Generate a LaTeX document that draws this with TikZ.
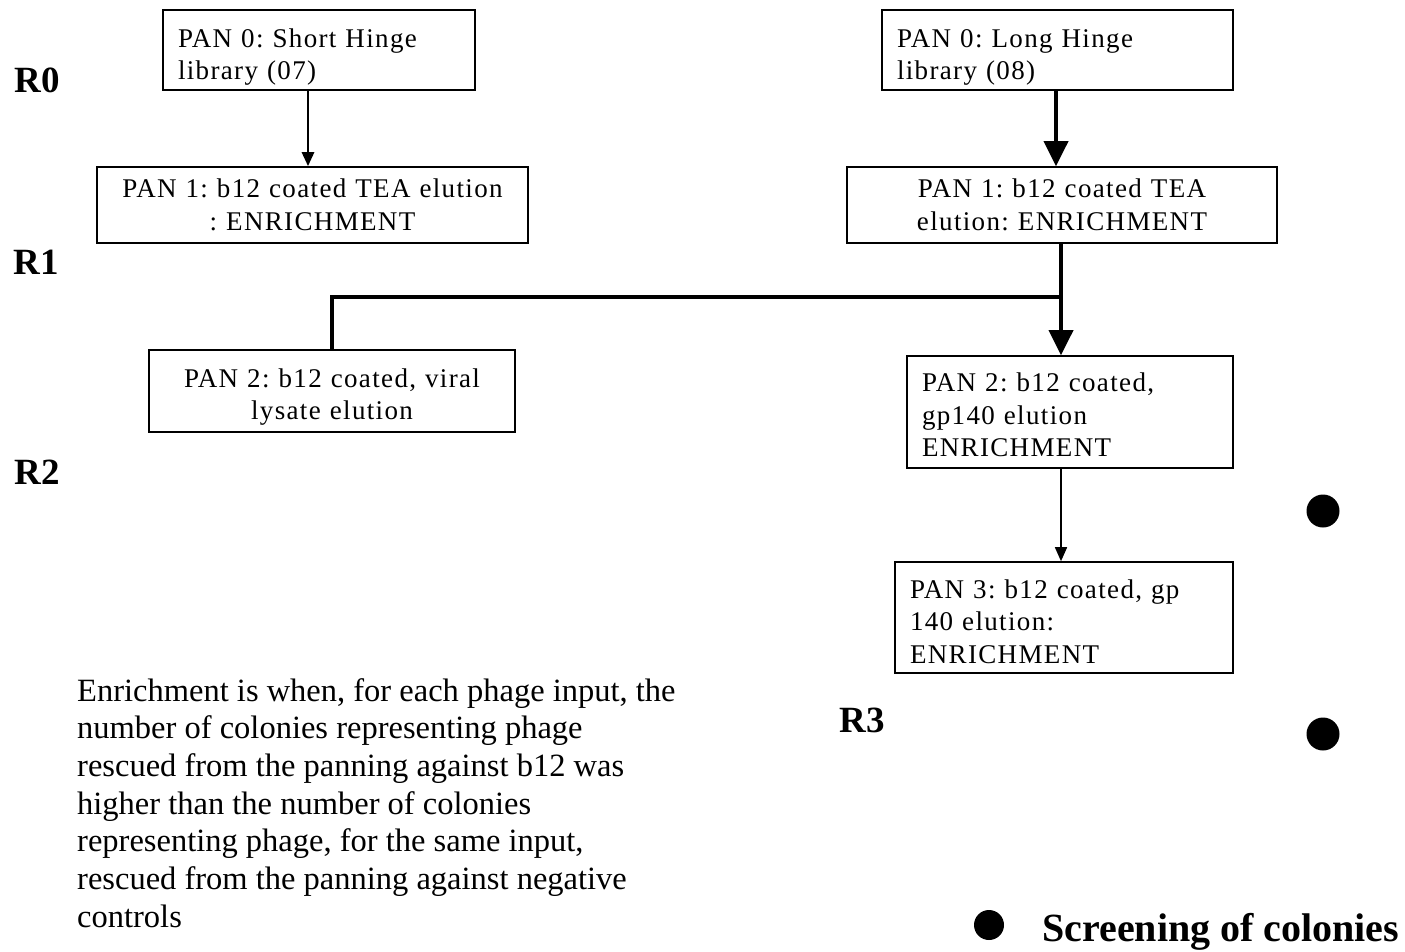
\documentclass[tikz,border=0pt]{standalone}
\usepackage{fontspec}
\setmainfont{Liberation Serif}
\newfontfamily\boxfont[LetterSpace=5]{Liberation Serif}
\usetikzlibrary{arrows.meta,shapes.geometric}
\newcommand{\dn}[1]{\rule{0pt}{#1pt}}
\frenchspacing
\begin{document}
\begin{tikzpicture}[x=1pt,y=-1pt,
  panbox/.style={draw,line width=1.6pt,rectangle,inner xsep=15pt,inner ysep=0pt,
    font=\boxfont\fontsize{27}{32.5}\selectfont\frenchspacing},
  rlabel/.style={font=\bfseries\fontsize{37}{40}\selectfont,inner sep=0pt},
  dot/.style={fill=black,circle,minimum size=33pt,inner sep=0pt},
  flow/.style={line width=3.4pt},
  bigtip/.style={-{Triangle[length=25pt,width=24pt]}},
  smalltip/.style={-{Triangle[length=14pt,width=12pt]}}
]
\useasboundingbox (0,0) rectangle (1405,951);
% boxes
\node[panbox,text width=282pt,align=left,minimum height=80pt] (b0l) at (319,50)
  {\dn{33}PAN 0: Short Hinge\\library (07)};
\node[panbox,text width=401pt,align=center,minimum height=76pt] (b1l) at (312.5,205)
  {PAN 1: b12 coated TEA elution\\: ENRICHMENT};
\node[panbox,text width=336pt,align=center,minimum height=82pt] (b2l) at (332,391)
  {\dn{31}PAN 2: b12 coated, viral\\lysate elution};
\node[panbox,text width=321pt,align=left,minimum height=80pt] (b0r) at (1057.5,50)
  {\dn{33}PAN 0: Long Hinge\\library (08)};
\node[panbox,text width=400pt,align=center,minimum height=76pt] (b1r) at (1062,205)
  {PAN 1: b12 coated TEA\\elution: ENRICHMENT};
\node[panbox,text width=296pt,align=left,minimum height=112pt] (b2r) at (1070,412)
  {\dn{25}PAN 2: b12 coated,\\gp140 elution\\ENRICHMENT};
\node[panbox,text width=308pt,align=left,minimum height=111pt] (b3) at (1064,617.5)
  {\dn{27}PAN 3: b12 coated, gp\\140 elution:\\ENRICHMENT};
% round labels
\node[rlabel] (r0) at (37,80) {R0};
\node[rlabel] (r1) at (36,262) {R1};
\node[rlabel] (r2) at (37,472) {R2};
\node[rlabel] (r3) at (862,720) {R3};
% connectors
\coordinate (j) at (1061,297);
\draw[line width=2.8pt,smalltip] (b0l.south -| 308,0) -- (b1l.north -| 308,0);
\draw[line width=3.8pt,bigtip] (b0r.south -| 1056,0) -- (b1r.north -| 1056,0);
\draw[flow] (b1r.south -| j) -- (j);
\draw[flow] (j) -| (b2l.north -| 332,0);
\draw[line width=3.8pt,bigtip] (j) -- (b2r.north -| j);
\draw[line width=1.6pt,smalltip] (b2r.south -| j) -- (b3.north -| j);
% bullets
\node[dot] (d1) at (1323,511) {};
\node[dot] (d2) at (1323,734) {};
\node[dot,minimum size=30pt] (d3) at (989,925) {};
\node[font=\bfseries\fontsize{40}{44}\selectfont,anchor=base west,inner sep=0pt] (scr) at (1042,941) {Screening of colonies};
% paragraph
\node[anchor=north west,inner sep=0pt,align=left,font=\fontsize{32.5}{37.7}\selectfont] (para) at (77,678)
  {Enrichment is when, for each phage input, the\\
   number of colonies representing phage\\
   rescued from the panning against b12 was\\
   higher than the number of colonies\\
   representing phage, for the same input,\\
   rescued from the panning against negative\\
   controls};
\end{tikzpicture}
\end{document}
